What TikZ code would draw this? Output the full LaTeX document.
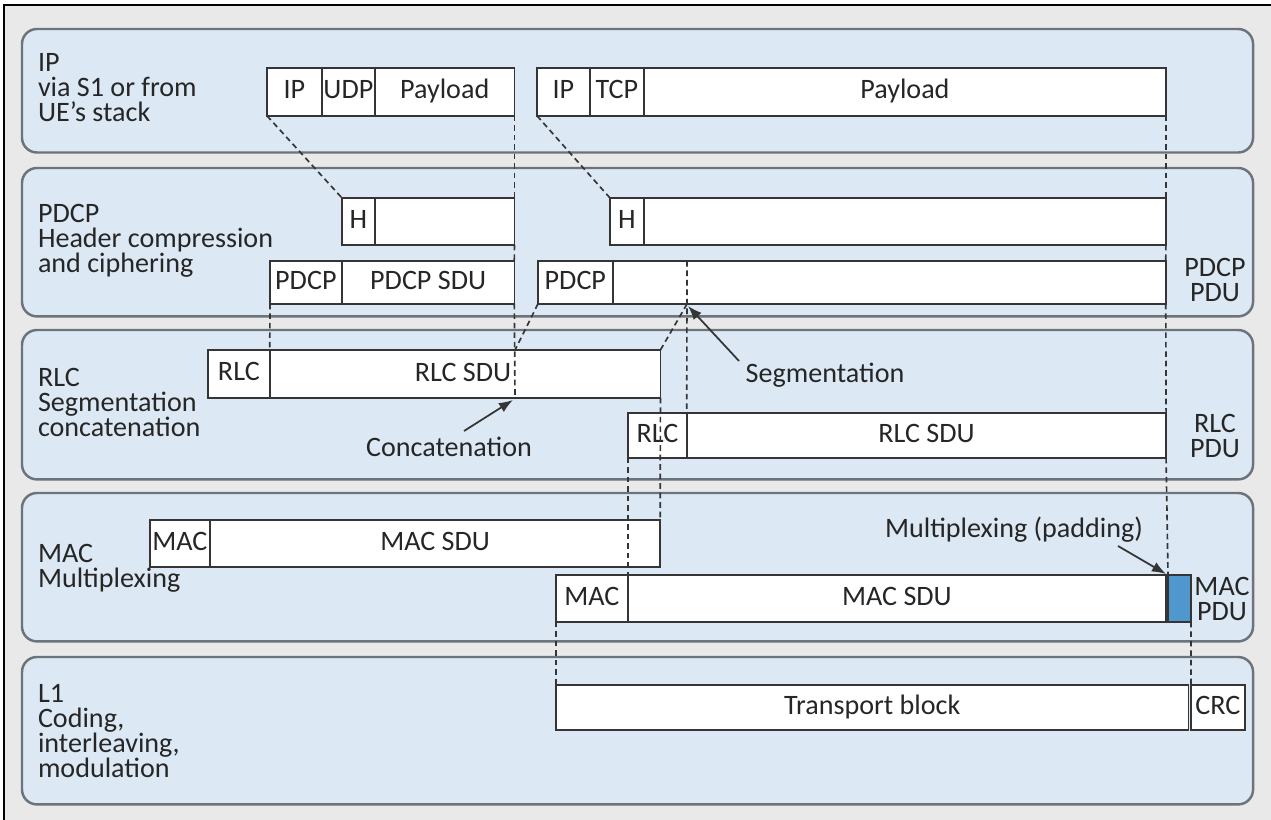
\documentclass[tikz,border=0pt]{standalone}
\usepackage{fontspec}
\setmainfont{Carlito}
\usetikzlibrary{arrows.meta}
\definecolor{bgc}{HTML}{E9E9E9}
\definecolor{panelfill}{HTML}{DCE8F4}
\definecolor{paneldraw}{HTML}{6A747A}
\definecolor{celldraw}{HTML}{353535}
\definecolor{txt}{HTML}{262626}
\definecolor{padfill}{HTML}{5097CE}
\newcommand\panelnode[5]{\node[panelbox, minimum width={(#4-#2)*0.5669pt}, minimum height={(#5-#3)*0.5669pt}, anchor=north west] (#1) at (#2,#3) {};}
\newcommand\cellnode[7][]{\node[cellbox, #1, minimum width={(#4-#2)*0.5669pt}, minimum height={(#6-#3)*0.5669pt}, anchor=north west] (#5) at (#2,#3) {#7};}
\begin{document}
\begin{tikzpicture}[x=0.02cm, y=-0.02cm,
  every node/.style={font=\fontsize{16}{14.4}\selectfont, text=txt},
  panelbox/.style={draw=paneldraw, fill=panelfill, line width=1.4pt, rounded corners=8.5pt, inner sep=0pt, outer sep=0pt},
  cellbox/.style={draw=celldraw, fill=white, line width=0.9pt, inner sep=0pt, outer sep=0pt, text height=11pt, text depth=3pt},
  lbl/.style={align=left, inner sep=0pt, outer sep=0pt},
  rlbl/.style={align=center, inner sep=0pt, outer sep=0pt, anchor=north},
  dsh/.style={draw=celldraw, line width=0.95pt, dash pattern=on 3.2pt off 2.2pt},
  arr/.style={draw=celldraw, line width=1pt, -{Latex[length=8pt, width=6pt]}}
]
\useasboundingbox (0,0) rectangle (1271,820);
\fill[bgc] (4,5) rectangle (1271,820);
\draw[black, line width=1.5pt] (4,820) -- (4,5) -- (1271,5);

% panels
\panelnode{pIP}{22}{29}{1258}{153}
\panelnode{pPDCP}{22}{168}{1258}{317}
\panelnode{pRLC}{22}{330}{1258}{480}
\panelnode{pMAC}{22}{493}{1258}{642}
\panelnode{pL1}{22}{657}{1258}{805}

% layer labels
\node[lbl, anchor=north west] (lIP) at (38,53) {IP\\via S1 or from\\UE’s stack};
\node[lbl, anchor=north west] (lPDCP) at (38,204) {PDCP\\Header compression\\and ciphering};
\node[lbl, anchor=north west] (lRLC) at (38,368) {RLC\\Segmentation\\concatenation};
\node[lbl, anchor=north west] (lMAC) at (38,544) {MAC\\Multiplexing};
\node[lbl, anchor=north west] (lL1) at (38,684) {L1\\Coding,\\interleaving,\\modulation};

\node[rlbl] (rPDCP) at (1215,258) {PDCP\\PDU};
\node[rlbl] (rRLC) at (1215,414) {RLC\\PDU};
\node[rlbl] (rMAC) at (1222,577) {MAC\\PDU};

% IP row
\cellnode{267}{68}{322}{ipA}{116}{IP}
\cellnode{322}{68}{375}{ipB}{116}{UDP}
\cellnode{375}{68}{515}{ipC}{116}{Payload}
\cellnode{537}{68}{590}{ipD}{116}{IP}
\cellnode{590}{68}{644}{ipE}{116}{TCP}
\cellnode{644}{68}{1168}{ipF}{116}{Payload}

% PDCP rows
\cellnode{342}{198}{375}{hA}{245}{H}
\cellnode{375}{198}{515}{hB}{245}{}
\cellnode{610}{198}{644}{hC}{245}{H}
\cellnode{644}{198}{1168}{hD}{245}{}
\cellnode{270}{261}{342}{pA}{304}{PDCP}
\cellnode{342}{261}{515}{pB}{304}{PDCP SDU}
\cellnode{538}{261}{613}{pC}{304}{PDCP}
\cellnode{613}{261}{1168}{pD}{304}{}

% RLC rows
\cellnode{208}{350}{270}{rA}{398}{RLC}
\cellnode{270}{350}{662}{rB}{398}{}
\node (rBt) at (463,374) [text height=11pt, text depth=3pt, inner sep=0pt] {RLC SDU};
\cellnode{628}{413}{687}{rC}{458}{RLC}
\cellnode{687}{413}{1168}{rD}{458}{RLC SDU}

% MAC rows
\cellnode{150}{520}{210}{mA}{567}{MAC}
\cellnode{210}{520}{662}{mB}{567}{MAC SDU}
\cellnode{556}{575}{628}{mC}{622}{MAC}
\cellnode{628}{575}{1168}{mD}{622}{MAC SDU}
\cellnode[fill=padfill]{1168}{575}{1191}{mE}{622}{}

% L1 row
\cellnode{556}{685}{1191}{tA}{730}{Transport block}
\cellnode{1191}{685}{1245}{tB}{730}{CRC}

% helper coordinates
\coordinate (concTop) at (515,350);
\coordinate (concBot) at (515,398);
\coordinate (segTop) at (687,261);
\coordinate (segBot) at (687,304);

% dashed mapping lines
\draw[dsh] (ipA.south west) -- (hA.north west);
\draw[dsh] (ipC.south east) -- (hB.north east);
\draw[dsh] (hB.south east) -- (pB.north east);
\draw[dsh] (pB.south east) -- (concBot);
\draw[dsh] (ipD.south west) -- (hC.north west);
\draw[dsh] (ipF.south east) -- (hD.north east);
\draw[dsh] (hD.south east) -- (pD.north east);
\draw[dsh] (pD.south east) -- (rD.north east);
\draw[dsh] (pA.south west) -- (rA.north east);
\draw[dsh] (pC.south west) -- (concTop);
\draw[dsh] (segTop) -- (rC.north east);
\draw[dsh] (segBot) -- (rB.north east);
\draw[dsh] (rB.south east) -- (mB.north east);
\draw[dsh] (rC.south west) -- (mD.north west);
\draw[dsh] (rD.south east) -- (mE.north west);
\draw[dsh] (mC.south west) -- (tA.north west);
\draw[dsh] (mE.south east) -- (tB.north west);

% annotations
\node[inner sep=0pt] (seg) at (825,375) {Segmentation};
\node[inner sep=0pt] (conc) at (449,447) {Concatenation};
\node[inner sep=0pt] (mux) at (1014,530) {Multiplexing (padding)};
\coordinate (concFrom) at (464,431);
\coordinate (segFrom) at (739,361);
\coordinate (muxFrom) at (1118,546);
\draw[arr] (segFrom) -- ([shift={(1,2)}]segBot);
\draw[arr] (concFrom) -- ([shift={(-2,2)}]concBot);
\draw[arr] (muxFrom) -- ([shift={(-2,-1)}]mE.north west);
\end{tikzpicture}
\end{document}
